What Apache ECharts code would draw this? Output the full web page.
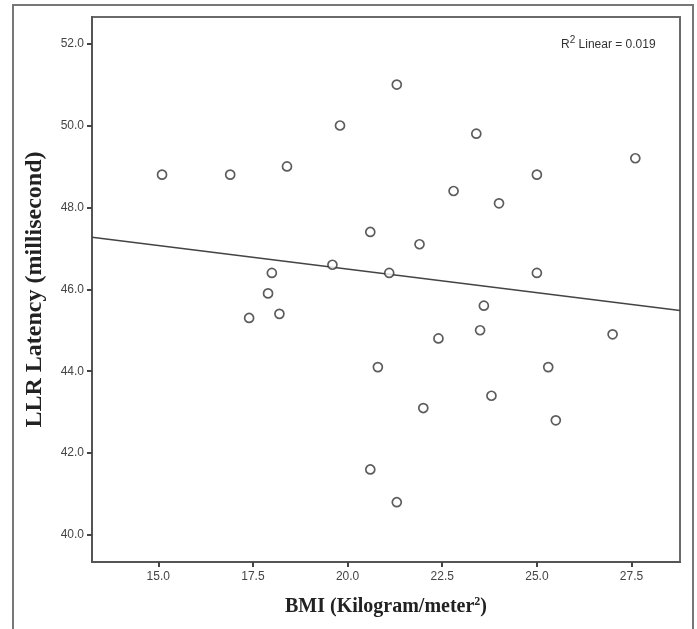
<!DOCTYPE html>
<html>
<head>
<meta charset="utf-8">
<script src="https://cdn.jsdelivr.net/npm/echarts@6/dist/echarts.min.js"></script>
<style>
  html, body { margin: 0; padding: 0; background: #fff; }
  #chart { width: 697px; height: 629px; }
</style>
</head>
<body>
<div id="chart"></div>
<script>
// BMI values (x) and LLR latency values (y)
var bmi = [15.1, 16.9, 18.4, 19.8, 21.3, 23.4, 27.6, 25.0, 22.8, 24.0,
           20.6, 21.9, 19.6, 18.0, 21.1, 25.0, 17.9, 17.4, 18.2, 23.6,
           23.5, 22.4, 27.0, 20.8, 25.3, 23.8, 22.0, 25.5, 20.6, 21.3];
var latency = [48.8, 48.8, 49.0, 50.0, 51.0, 49.8, 49.2, 48.8, 48.4, 48.1,
               47.4, 47.1, 46.6, 46.4, 46.4, 46.4, 45.9, 45.3, 45.4, 45.6,
               45.0, 44.8, 44.9, 44.1, 44.1, 43.4, 43.1, 42.8, 41.6, 40.8];
var xTicks = [15, 17.5, 20, 22.5, 25, 27.5];
var yTicks = [40, 42, 44, 46, 48, 50, 52];
var xRange = [13.25, 28.78];
var yRange = [39.34, 52.65];
var r2Label = "0.019";

// least squares fit line, computed from the points
function fitLine(xs, ys) {
  var n = xs.length, mx = 0, my = 0;
  for (var i = 0; i < n; i++) { mx += xs[i]; my += ys[i]; }
  mx /= n; my /= n;
  var sxy = 0, sxx = 0;
  for (var j = 0; j < n; j++) {
    sxy += (xs[j] - mx) * (ys[j] - my);
    sxx += (xs[j] - mx) * (xs[j] - mx);
  }
  var b = sxy / sxx, a = my - b * mx;
  return [[xRange[0], a + b * xRange[0]], [xRange[1], a + b * xRange[1]]];
}

var points = bmi.map(function (v, i) { return [v, latency[i]]; });

var chart = echarts.init(document.getElementById("chart"));
chart.setOption({
  backgroundColor: "#fff",
  animation: false,
  grid: {
    left: 92,
    top: 17,
    right: 17,
    bottom: 67,
    show: true,
    borderColor: "#6a6a6a",
    borderWidth: 2
  },
  title: {
    text: "{r|R}{s|2}{r| Linear = " + r2Label + "}",
    left: 556,
    top: 30,
    textStyle: {
      fontWeight: "normal",
      rich: {
        r: { fontFamily: "Liberation Sans", fontWeight: "normal", fontSize: 12, color: "#333", lineHeight: 16, verticalAlign: "bottom" },
        s: { fontFamily: "Liberation Sans", fontWeight: "normal", fontSize: 10, color: "#333", lineHeight: 16, verticalAlign: "top", padding: [0, 0, 6, 0] }
      }
    }
  },
  graphic: [
    {
      type: "polyline",
      silent: true,
      shape: { points: [[13, 629], [13, 5], [693, 5], [693, 629]] },
      style: { stroke: "#777", lineWidth: 2, fill: null }
    }
  ],
  xAxis: {
    type: "value",
    min: xRange[0],
    max: xRange[1],
    name: "BMI (Kilogram/meter{sup|2})",
    nameLocation: "middle",
    nameGap: 34,
    nameTextStyle: {
      fontFamily: "Liberation Serif",
      fontWeight: "bold",
      fontSize: 20,
      color: "#222",
      rich: {
        sup: { fontFamily: "Liberation Serif", fontWeight: "bold", fontSize: 12, color: "#222", verticalAlign: "top", padding: [0, 0, 9, 0] }
      }
    },
    splitLine: { show: false },
    axisLine: { show: true, onZero: false, lineStyle: { color: "#555", width: 2 } },
    axisTick: { show: true, length: 5, customValues: xTicks, lineStyle: { color: "#444", width: 2 } },
    axisLabel: {
      customValues: xTicks,
      margin: 9,
      fontFamily: "Liberation Sans",
      fontSize: 12,
      color: "#444",
      formatter: function (v) { return v.toFixed(1); }
    }
  },
  yAxis: {
    type: "value",
    min: yRange[0],
    max: yRange[1],
    name: "LLR Latency (millisecond)",
    nameLocation: "middle",
    nameGap: 45,
    nameTextStyle: {
      fontFamily: "Liberation Serif",
      fontWeight: "bold",
      fontSize: 24,
      color: "#222"
    },
    splitLine: { show: false },
    axisLine: { show: true, onZero: false, lineStyle: { color: "#555", width: 2 } },
    axisTick: { show: true, length: 5, customValues: yTicks, lineStyle: { color: "#444", width: 2 } },
    axisLabel: {
      customValues: yTicks,
      margin: 8,
      fontFamily: "Liberation Sans",
      fontSize: 12,
      color: "#444",
      formatter: function (v) { return v.toFixed(1); }
    }
  },
  series: [
    {
      name: "fit",
      type: "line",
      data: fitLine(bmi, latency),
      symbol: "none",
      silent: true,
      lineStyle: { color: "#444", width: 1.5 },
      z: 1
    },
    {
      name: "LLR",
      type: "scatter",
      data: points,
      symbol: "circle",
      symbolSize: 9,
      itemStyle: { color: "#fff", borderColor: "#333", borderWidth: 1.7 },
      z: 2
    }
  ]
});
</script>
</body>
</html>
